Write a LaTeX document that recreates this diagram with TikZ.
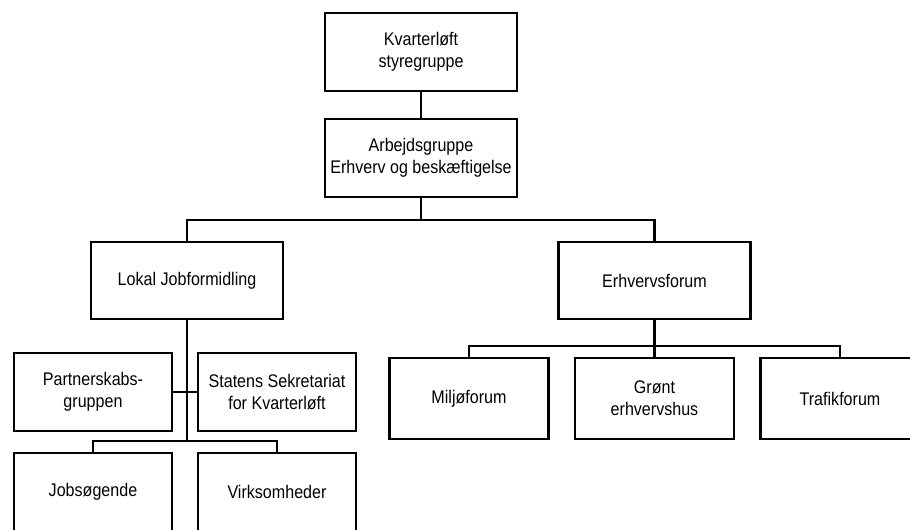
\documentclass[tikz,border=0pt]{standalone}
\usepackage{fontspec}
\setmainfont{Liberation Sans}[FakeStretch=0.88]
\usepackage{tikz}
\usetikzlibrary{positioning}

\begin{document}
\begin{tikzpicture}[x=0.02cm,y=-0.02cm,line width=1.3pt,
    unit/.style={draw,inner sep=0pt,align=center,font=\fontsize{10.4}{12.5}\selectfont},
    bigunit/.style={unit,minimum width=3.84cm,minimum height=1.55cm},
    smallunit/.style={unit,minimum width=3.16cm,minimum height=1.56cm},
    forum/.style={unit,minimum width=3.18cm,minimum height=1.62cm}]

    \useasboundingbox (0,0) rectangle (910,530);
    \clip (0,0) rectangle (910,530);

    % The top
	\node [bigunit] at (421,52) (kvart) {Kvarterløft\\styregruppe};
	\node [bigunit] at (421,158) (arb) {Arbejdsgruppe\\Erhverv og beskæftigelse};
	\node [bigunit] at (187,280.5) (lokal) {Lokal Jobformidling};
	\node [bigunit] at (654.5,280.5) (erhv) {Erhvervsforum};

    % Left side
	\node [smallunit] at (93,392) (partner) {Partnerskabs-\\gruppen};
	\node [smallunit] at (277,392) (statens) {Statens Sekretariat\\for Kvarterløft};
	\node [smallunit] at (93,492) (jobs) {Jobsøgende};
	\node [smallunit] at (277,492) (virk) {Virksomheder};

    % Right side
	\node [forum] at (469,398.5) (milj) {Miljøforum};
	\node [forum] at (654.5,398.5) (gront) {Grønt\\erhvervshus};
	\node [forum] at (840,398.5) (trafik) {Trafikforum};

	\coordinate (busA) at (421,220);
	\coordinate (busB) at (187,441);
	\coordinate (busC) at (654.5,346);

	% Connectors
	\draw (kvart) -- (arb);
	\draw (arb) -- (busA);
	\draw (lokal.north) |- (busA) -| (erhv.north);

	\draw (lokal) -- (busB);
	\draw (partner) -- (statens);
	\draw (jobs.north) |- (busB) -| (virk.north);

	\draw (erhv) -- (busC);
	\draw (milj.north) |- (busC) -| (trafik.north);
	\draw (gront) -- (busC);

\end{tikzpicture}
\end{document}
